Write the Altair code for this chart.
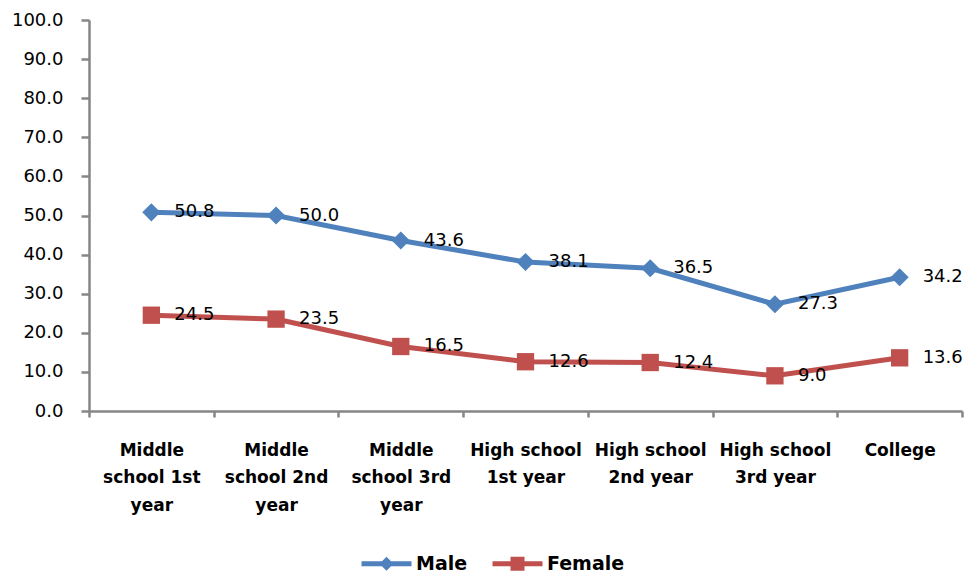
import altair as alt
import pandas as pd

categories = ["Middle\nschool 1st\nyear", "Middle\nschool 2nd\nyear", "Middle\nschool 3rd\nyear",
              "High school\n1st year", "High school\n2nd year", "High school\n3rd year", "College"]
male = [50.8, 50.0, 43.6, 38.1, 36.5, 27.3, 34.2]
female = [24.5, 23.5, 16.5, 12.6, 12.4, 9.0, 13.6]
series = ["Male", "Female"]
colors = ["#4F81BD", "#C0504D"]
markers = ["diamond", "square"]
marker_sizes = [330, 300]
y_ticks = [0, 10, 20, 30, 40, 50, 60, 70, 80, 90, 100]

rows = []
for s, vals in zip(series, [male, female]):
    for c, v in zip(categories, vals):
        rows.append({"category": c, "series": s, "value": v})
df = pd.DataFrame(rows)

FONT = "DejaVu Sans"
AXIS_GRAY = "#868686"

x_enc = alt.X(
    "category:N", sort=categories,
    scale=alt.Scale(type="band", paddingInner=0, paddingOuter=0),
    axis=alt.Axis(title=None, labelAngle=0,
                  labelExpr="datum.value ? split(datum.value, '\\n') : ''",
                  labelFont=FONT, labelFontSize=17, labelFontWeight="bold",
                  labelLineHeight=27.5, labelPadding=25, tickSize=6, tickBand="extent",
                  labelLimit=300, labelColor="black"),
)
y_enc = alt.Y(
    "value:Q", scale=alt.Scale(domain=[0, 100], nice=False, zero=True),
    axis=alt.Axis(title=None, values=y_ticks, format=".1f", grid=False, tickSize=8,
                  labelPadding=18, labelFont=FONT, labelFontSize=18, labelColor="black"),
)
color_scale = alt.Scale(domain=series, range=colors)

base = alt.Chart(df)

lines = base.mark_line(strokeWidth=5).encode(
    x=x_enc, y=y_enc,
    color=alt.Color("series:N", scale=color_scale, legend=None),
)

point_layers = []
for s, mk, sz in zip(series, markers, marker_sizes):
    point_layers.append(
        base.transform_filter(alt.datum.series == s)
        .mark_point(shape=mk, size=sz, filled=True, opacity=1)
        .encode(x=x_enc, y=y_enc,
                color=alt.Color("series:N", scale=color_scale, legend=None))
    )

labels = base.mark_text(align="left", baseline="middle", dx=23, font=FONT,
                        fontSize=18, color="black").encode(
    x=x_enc, y=y_enc, text=alt.Text("value:Q", format=".1f"),
)

diamond_line = "M-3.57,-0.36L3.57,-0.36L3.57,0.36L-3.57,0.36Z M0,-1L1,0L0,1L-1,0Z"
square_line = "M-3.57,-0.36L3.57,-0.36L3.57,0.36L-3.57,0.36Z M-1,-1L1,-1L1,1L-1,1Z"

leg = alt.Legend(orient="none", legendX=288, legendY=534, direction="horizontal",
                 symbolSize=196, labelOffset=20, columnPadding=24, labelFont=FONT,
                 labelFontSize=19, labelFontWeight="bold", labelColor="black",
                 padding=0, symbolStrokeWidth=0, symbolOpacity=1)

legend_layer = base.transform_filter("datum.value < 0").mark_point(
    filled=True, opacity=1).encode(
    color=alt.Color("series:N", scale=color_scale, title=None, legend=leg),
    shape=alt.Shape("series:N", scale=alt.Scale(domain=series, range=[diamond_line, square_line]),
                    title=None, legend=leg),
)

chart = alt.layer(lines, *point_layers, labels, legend_layer).resolve_scale(
    color="independent", shape="independent"
).properties(
    width=873, height=391,
    padding={"left": 89, "top": 20, "right": 5, "bottom": 165},
    autosize=alt.AutoSizeParams(type="none"),
).configure_view(stroke=None).configure_axis(
    domainColor=AXIS_GRAY, tickColor=AXIS_GRAY, domainWidth=2.5, tickWidth=2.5,
)

chart.save("out.html", embed_options={"renderer": "svg", "actions": False})
